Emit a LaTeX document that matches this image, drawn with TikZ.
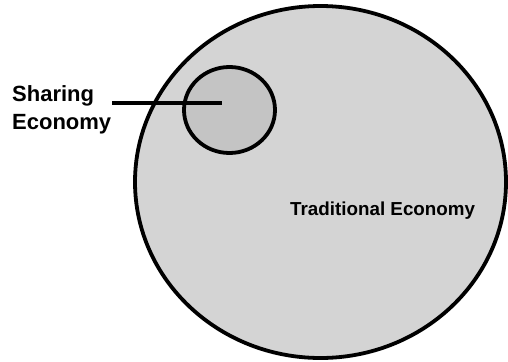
\documentclass[tikz,border=0pt]{standalone}
\usepackage{fontspec}
\setmainfont{Liberation Sans}
\usetikzlibrary{shapes.geometric}

\tikzset{
  ring/.style={ellipse,draw,line width=3.8pt,inner sep=0pt},
  lbl/.style={inner sep=0pt,font=\bfseries}
}

\begin{document}
\begin{tikzpicture}[x=1pt,y=-1pt]
\useasboundingbox (0,0) rectangle (508,361);
\node[ring,fill=black!17,minimum width=371pt,minimum height=352pt] (trad) at (320.5,182) {};
\node[ring,fill=black!23,minimum width=91pt,minimum height=86pt] (share) at (229.5,110) {};
\node[lbl,anchor=base west] (tradtext) at (290,215) {\fontsize{18.8}{22}\selectfont Traditional Economy};
\node[lbl,anchor=north west,align=left,font=\bfseries\fontsize{22}{28}\selectfont] (sharetext) at (12,85) {Sharing\\Economy};
\coordinate (tip) at (222,103);
\draw[line width=3.8pt] ([xshift=1pt]sharetext.east |- tip) -- (tip);
\end{tikzpicture}
\end{document}
